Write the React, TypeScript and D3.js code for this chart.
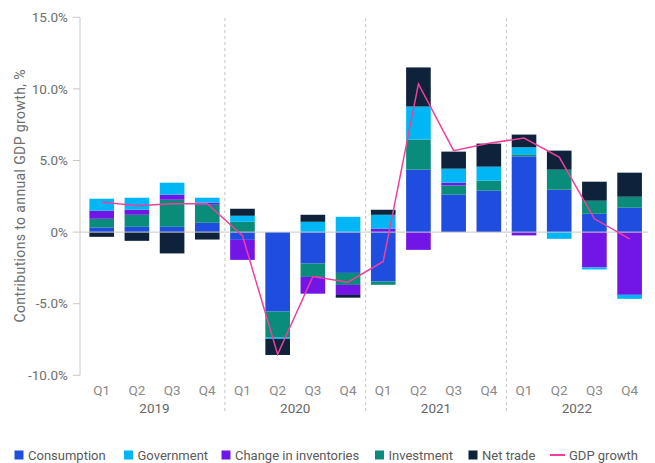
import React from "react";
import * as d3 from "d3";

const years = ["2019", "2020", "2021", "2022"];
const quarterNames = ["Q1", "Q2", "Q3", "Q4"];
const consumption = [0.33, 0.37, 0.37, 0.65, -0.54, -5.55, -2.2, -2.85, -3.45, 4.36, 2.61, 2.89, 5.29, 2.96, 1.28, 1.7];
const government = [0.84, 0.84, 0.84, 0.35, 0.42, -0.09, 0.72, 1.07, 0.98, 2.31, 0.98, 0.98, 0.49, -0.47, -0.14, -0.28];
const inventories = [0.56, 0.35, 0.35, 0.14, -1.4, 0, -1.17, -0.7, 0.23, -1.24, 0.19, 0, -0.23, 0, -2.47, -4.38];
const investment = [0.6, 0.84, 1.89, 1.26, 0.72, -1.82, -0.93, -0.84, -0.23, 2.1, 0.65, 0.7, 0.14, 1.4, 0.91, 0.77];
const netTrade = [-0.33, -0.61, -1.49, -0.52, 0.49, -1.12, 0.49, -0.19, 0.35, 2.73, 1.19, 1.61, 0.89, 1.33, 1.33, 1.68];
const gdpGrowth = [2.1, 1.84, 1.98, 1.98, -0.25, -8.54, -3.1, -3.5, -2.05, 10.35, 5.69, 6.2, 6.57, 5.24, 0.93, -0.47];
const yTicks = [-10, -5, 0, 5, 10, 15];
const yTickLabels = ["-10.0%", "-5.0%", "0%", "5.0%", "10.0%", "15.0%"];

const W = 655;
const H = 463;
const FONT = "Roboto, 'Noto Sans', sans-serif";

const seriesDefs = [
  { key: "consumption", label: "Consumption", color: "#1f4de0", values: consumption },
  { key: "investment", label: "Investment", color: "#0a8c7a", values: investment },
  { key: "inventories", label: "Change in inventories", color: "#7216e8", values: inventories },
  { key: "government", label: "Government", color: "#00b6f5", values: government },
  { key: "netTrade", label: "Net trade", color: "#0e223b", values: netTrade },
];

const legendOrder = [
  { label: "Consumption", color: "#1f4de0", x: 14.5 },
  { label: "Government", color: "#00b6f5", x: 124 },
  { label: "Change in inventories", color: "#7216e8", x: 221.5 },
  { label: "Investment", color: "#0a8c7a", x: 375 },
  { label: "Net trade", color: "#0e223b", x: 468.5 },
];

export default function App() {
  const ids = years.flatMap((y) => quarterNames.map((q) => `${q} ${y}`));
  const rows = ids.map((id, i) => {
    const r: any = { id };
    seriesDefs.forEach((s) => (r[s.key] = s.values[i]));
    return r;
  });

  const x = d3.scaleBand<string>().domain(ids).range([84.1, 647.2]).paddingInner(0.3).paddingOuter(0.15);
  const y = d3.scaleLinear().domain([-10, 15]).range([375.3, 17.3]);

  const stack = d3
    .stack<any>()
    .keys(seriesDefs.map((s) => s.key))
    .offset(d3.stackOffsetDiverging);
  const stacked = stack(rows);

  const line = d3
    .line<number>()
    .x((_, i) => (x(ids[i]) as number) + x.bandwidth() / 2)
    .y((d) => y(d));

  const step = x.step();
  const gap = step * 0.3;

  return (
    <svg width={W} height={H} style={{ position: "absolute", left: 0, top: 0 }}>
      <rect width={W} height={H} fill="#fff" />
      {/* y axis */}
      <line x1={80} x2={80} y1={y(15)} y2={y(-10)} stroke="#c8c8c8" strokeWidth={1} />
      {yTicks.map((t, i) => (
        <g key={t}>
          <line x1={73} x2={80} y1={y(t)} y2={y(t)} stroke="#c8c8c8" />
          <text x={68} y={y(t)} dy="0.35em" textAnchor="end" fontFamily={FONT} fontSize={13.5} fill="#6e6e6e">
            {yTickLabels[i]}
          </text>
        </g>
      ))}
      <text
        transform={`translate(20,196) rotate(-90)`}
        textAnchor="middle"
        dy="0.35em"
        fontFamily={FONT}
        fontSize={14}
        fill="#6e6e6e"
        textLength={253}
        lengthAdjust="spacing"
      >
        Contributions to annual GDP growth, %
      </text>
      {/* year separators */}
      {years.slice(1).map((yr) => {
        const xx = (x(`Q1 ${yr}`) as number) - gap / 2;
        return (
          <line key={yr} x1={xx} x2={xx} y1={18} y2={412} stroke="#c4c4c4" strokeDasharray="3,3" strokeWidth={1} />
        );
      })}
      {/* bars */}
      {stacked.map((layer, li) => (
        <g key={layer.key} fill={seriesDefs[li].color}>
          {layer.map((d, i) => {
            const y0 = y(d[0]);
            const y1 = y(d[1]);
            const h = Math.abs(y0 - y1);
            if (h < 0.01) return null;
            return <rect key={i} x={x(ids[i])} y={Math.min(y0, y1)} width={x.bandwidth()} height={h} />;
          })}
        </g>
      ))}
      {/* zero line */}
      <line x1={80} x2={648} y1={y(0)} y2={y(0)} stroke="#c8c8c8" strokeWidth={1} />
      {/* GDP line */}
      <path d={line(gdpGrowth) || ""} fill="none" stroke="#f23f9c" strokeWidth={1.5} />
      {/* x labels */}
      {ids.map((id, i) => (
        <text
          key={id}
          x={(x(id) as number) + x.bandwidth() / 2}
          y={395}
          textAnchor="middle"
          fontFamily={FONT}
          fontSize={13.5}
          fill="#8a8a8a"
        >
          {quarterNames[i % 4]}
        </text>
      ))}
      {years.map((yr) => {
        const a = x(`Q1 ${yr}`) as number;
        const b = (x(`Q4 ${yr}`) as number) + x.bandwidth();
        return (
          <text key={yr} x={(a + b) / 2} y={412.5} textAnchor="middle" fontFamily={FONT} fontSize={13.5} fill="#666">
            {yr}
          </text>
        );
      })}
      {/* legend */}
      {legendOrder.map((l) => (
        <g key={l.label}>
          <rect x={l.x} y={450.5} width={9} height={9} fill={l.color} />
          <text x={l.x + 13.5} y={455} dy="0.35em" fontFamily={FONT} fontSize={13} fill="#5a5a5a">
            {l.label}
          </text>
        </g>
      ))}
      <line x1={550} x2={565} y1={455} y2={455} stroke="#f23f9c" strokeWidth={2} />
      <text x={569} y={455} dy="0.35em" fontFamily={FONT} fontSize={13} fill="#5a5a5a">
        GDP growth
      </text>
    </svg>
  );
}
